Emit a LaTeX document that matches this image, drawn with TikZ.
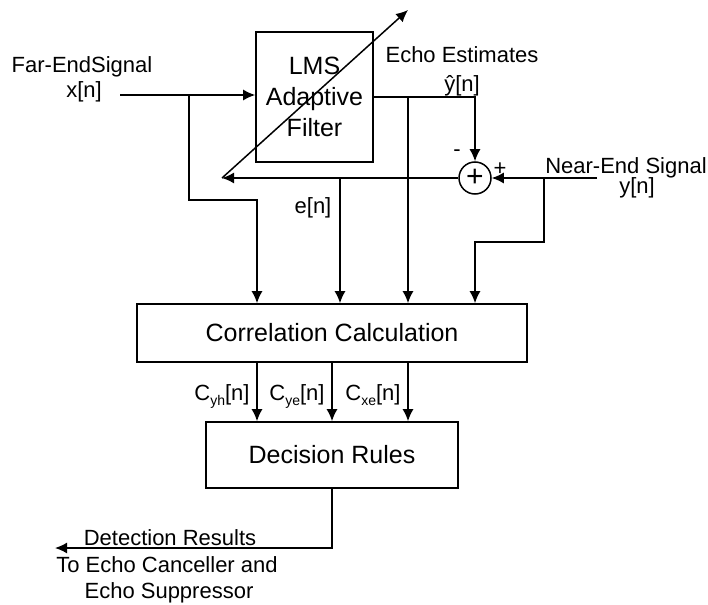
\documentclass[tikz,border=0pt]{standalone}
\usepackage{fontspec}
\setmainfont{Liberation Sans}
\usetikzlibrary{arrows.meta}

\tikzset{
  blk/.style={draw, line width=1.6pt, align=center, font=\fontsize{25}{31}\selectfont},
  lbl/.style={inner sep=0pt, anchor=base, font=\fontsize{22}{26}\selectfont},
  wire/.style={line width=1.5pt},
  sig/.style={wire, -{Latex[length=12pt,width=11pt]}}
}
\newcommand{\lowtxt}[1]{\raisebox{-5pt}{\fontsize{14}{14}\selectfont #1}}

\begin{document}
\begin{tikzpicture}[x=1pt, y=-1pt]
\useasboundingbox (0,0) rectangle (708,604);
% define variables
\pgfmathparse{16}\let\r=\pgfmathresult

% blocks
\node[blk, minimum width=117pt, minimum height=130pt] (lms) at (314.5,97) {LMS\\Adaptive\\Filter};
\node[blk, minimum width=390pt, minimum height=58pt] (corr) at (332,333) {Correlation Calculation};
\node[blk, minimum width=252pt, minimum height=66pt] (dec) at (332,455) {Decision Rules};
\node[draw, circle, wire, minimum size=2*\r*1pt, inner sep=0pt, font=\fontsize{30}{30}\selectfont] (sum) at (475,178) {+};

% branch points and free ends
\coordinate (xin) at (120,95);
\coordinate (xbr) at (189,95);
\coordinate (ebr) at (408,97);
\coordinate (tip) at (222,178);
\coordinate (adapt) at (408,10);
\coordinate (ebr2) at (340,178);
\coordinate (yin) at (597,178);
\coordinate (nbr) at (544,178);
\coordinate (res) at (55,548);

% signal paths
\draw[sig] (xin) -- (xin -| lms.west);
\draw[sig] (xbr) |- (257,200) -- (257,200 |- corr.north);
\draw[sig] (lms.east) -| (sum.north);
\draw[sig] (ebr) -- (ebr |- corr.north);
\draw[sig] (sum.west) -- (tip);
\draw[sig] (tip) -- (adapt);
\draw[sig] (ebr2) -- (ebr2 |- corr.north);
\draw[sig] (yin) -- (sum.east);
\draw[sig] (nbr) -- ++(0,64) -| (sum |- corr.north);

% correlation outputs
\foreach \cx in {257,332,408}{
	\draw[sig] (\cx,362 |- corr.south) -- (\cx,362 |- dec.north);
}
\draw[sig] (dec.south) |- (res);

% text
\node[lbl] (farlbl) at (82,73) {Far-EndSignal};
\node[lbl] (xlbl) at (84,98) {x[n]};
\node[lbl] (estlbl) at (462,63) {Echo Estimates};
\node[lbl] (yhatlbl) at (462,92) {ŷ[n]};
\node[lbl] (nearlbl) at (626,173) {Near-End Signal};
\node[lbl] (ylbl) at (637,193) {y[n]};
\node[lbl] (minus) at (457,157) {-};
\node[lbl] (plus) at (500,175) {+};
\node[lbl] (elbl) at (313,213) {e[n]};
\node[lbl] (cyh) at (222,400) {C\lowtxt{yh}[n]};
\node[lbl] (cye) at (297,400) {C\lowtxt{ye}[n]};
\node[lbl] (cxe) at (373,400) {C\lowtxt{xe}[n]};
\node[lbl] (detlbl) at (170,545) {Detection Results};
\node[lbl] (tolbl) at (167,572) {To Echo Canceller and};
\node[lbl] (suplbl) at (169,598) {Echo Suppressor};
\end{tikzpicture}
\end{document}
